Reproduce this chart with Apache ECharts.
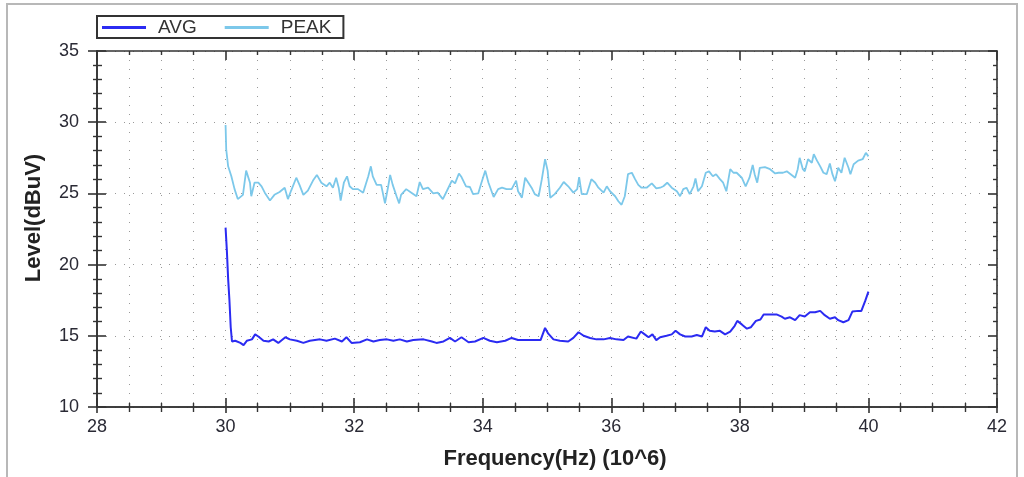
<!DOCTYPE html>
<html>
<head>
<meta charset="utf-8">
<script src="https://cdn.jsdelivr.net/npm/echarts@6/dist/echarts.min.js"></script>
<style>html,body{margin:0;padding:0;background:#fff;}#c{width:1024px;height:477px;}</style>
</head>
<body>
<div id="c"></div>
<script>
// ---- data (frequency in MHz, level in dBuV) ----
var seriesNames = ['AVG', 'PEAK'];
var avgFreq = [30.00,30.02,30.04,30.06,30.08,30.10,30.15,30.23,30.28,30.33,30.41,30.46,30.51,30.59,30.67,30.74,30.82,30.93,31.00,31.11,31.21,31.31,31.47,31.57,31.70,31.81,31.88,31.96,32.09,32.20,32.30,32.40,32.51,32.61,32.71,32.82,32.92,33.08,33.21,33.28,33.39,33.49,33.57,33.67,33.78,33.88,34.01,34.11,34.22,34.35,34.45,34.55,34.68,34.81,34.90,34.97,35.02,35.10,35.20,35.33,35.41,35.49,35.57,35.67,35.77,35.88,35.98,36.08,36.19,36.26,36.39,36.46,36.52,36.58,36.64,36.70,36.76,36.86,36.94,37.00,37.07,37.15,37.25,37.33,37.41,37.47,37.53,37.61,37.69,37.77,37.85,37.92,37.96,38.03,38.11,38.17,38.25,38.32,38.37,38.47,38.57,38.65,38.70,38.78,38.86,38.93,39.01,39.09,39.17,39.25,39.32,39.40,39.48,39.53,39.61,39.69,39.75,39.84,39.89,39.95,40.00];
var avgLevel = [22.6,21.0,19.0,17.5,15.6,14.6,14.65,14.5,14.35,14.65,14.75,15.1,14.95,14.65,14.6,14.75,14.5,14.9,14.75,14.65,14.5,14.65,14.75,14.65,14.8,14.6,14.9,14.5,14.55,14.75,14.6,14.7,14.75,14.65,14.75,14.6,14.7,14.75,14.6,14.5,14.6,14.85,14.6,14.9,14.55,14.6,14.85,14.65,14.55,14.65,14.85,14.7,14.7,14.7,14.7,15.55,15.15,14.75,14.65,14.6,14.85,15.25,15.0,14.85,14.75,14.75,14.85,14.75,14.7,14.95,14.8,15.3,15.1,14.9,15.1,14.7,14.9,15.0,15.1,15.35,15.1,14.95,14.95,15.05,14.95,15.6,15.35,15.3,15.35,15.1,15.3,15.7,16.05,15.8,15.5,15.6,16.05,16.15,16.5,16.5,16.5,16.35,16.2,16.3,16.1,16.45,16.35,16.65,16.65,16.75,16.45,16.2,16.3,16.1,15.95,16.1,16.7,16.75,16.75,17.45,18.1];
var peakFreq = [30.00,30.01,30.04,30.09,30.14,30.19,30.27,30.32,30.35,30.38,30.40,30.45,30.51,30.56,30.61,30.69,30.76,30.84,30.92,30.97,31.02,31.10,31.15,31.21,31.28,31.36,31.42,31.49,31.57,31.62,31.67,31.72,31.76,31.79,31.84,31.89,31.93,31.98,32.06,32.14,32.22,32.26,32.29,32.35,32.42,32.48,32.53,32.56,32.60,32.66,32.70,32.73,32.81,32.89,32.97,33.02,33.07,33.15,33.23,33.30,33.38,33.44,33.52,33.57,33.63,33.67,33.74,33.80,33.85,33.93,33.98,34.04,34.09,34.17,34.24,34.30,34.37,34.45,34.52,34.55,34.61,34.66,34.71,34.76,34.81,34.87,34.92,34.97,35.01,35.05,35.12,35.20,35.26,35.33,35.41,35.47,35.50,35.54,35.62,35.69,35.75,35.80,35.88,35.93,35.98,36.06,36.11,36.16,36.21,36.26,36.32,36.37,36.42,36.47,36.55,36.63,36.70,36.76,36.81,36.87,36.94,37.02,37.07,37.12,37.17,37.22,37.28,37.31,37.35,37.41,37.47,37.52,37.58,37.63,37.69,37.74,37.79,37.85,37.90,37.95,38.03,38.09,38.15,38.20,38.23,38.27,38.31,38.39,38.47,38.55,38.60,38.67,38.73,38.79,38.86,38.90,38.93,38.98,39.01,39.06,39.12,39.15,39.20,39.25,39.30,39.35,39.40,39.44,39.48,39.53,39.58,39.63,39.69,39.72,39.77,39.84,39.91,39.96,40.00];
var peakLevel = [29.8,28.1,26.9,26.2,25.3,24.6,24.9,26.6,26.5,25.75,24.8,25.75,25.75,25.5,25.05,24.5,24.9,25.1,25.4,24.6,25.2,26.1,25.6,24.9,25.2,25.9,26.3,25.75,25.5,25.75,25.4,26.1,25.4,24.5,25.75,26.2,25.5,25.3,25.3,25.05,26.2,26.9,26.2,25.6,25.6,24.3,25.5,26.3,25.6,24.8,24.3,24.9,25.3,25.05,24.8,25.8,25.3,25.4,25.0,25.05,24.6,25.15,25.9,25.7,26.4,26.15,25.5,25.45,24.95,25.0,25.75,26.6,25.75,24.75,25.3,25.4,25.3,25.3,25.9,25.15,24.7,26.1,25.75,25.4,24.95,24.8,26.0,27.4,26.6,24.7,24.95,25.4,25.8,25.5,25.05,25.3,26.15,24.95,24.95,26.0,25.75,25.4,25.05,25.5,25.15,24.8,24.45,24.2,24.8,26.35,26.45,26.0,25.6,25.4,25.4,25.7,25.35,25.4,25.5,25.75,25.4,25.15,24.8,25.3,25.4,24.95,25.5,26.05,25.15,25.5,26.45,26.55,26.2,26.35,26.0,25.75,25.15,26.7,26.45,26.45,26.1,25.5,26.1,27.0,26.35,25.75,26.8,26.85,26.7,26.4,26.45,26.45,26.55,26.35,26.1,26.7,27.5,26.7,26.55,27.4,27.15,27.75,27.3,26.9,26.45,26.35,27.1,26.35,25.85,26.8,26.45,27.5,26.8,26.35,27.05,27.3,27.4,27.85,27.6];
var xTicks = {min: 28, max: 42, step: 2};
var yTicks = {min: 10, max: 35, step: 5};
var xName = 'Frequency(Hz) (10^6)';
var yName = 'Level(dBuV)';

function pairs(xs, ys) { return xs.map(function (x, i) { return [x, ys[i]]; }); }

var FONT = 'Liberation Sans, Arial, sans-serif';
var AX = '#333';
var dotted = {color: '#999', width: 1, type: [1, 8]};

function xAx(pos, inside, len, mlen, labels, grid) {
  return {
    type: 'value', position: pos, min: xTicks.min, max: xTicks.max, interval: xTicks.step,
    axisLine: {show: true, onZero: false, lineStyle: {color: AX, width: 1.6}},
    axisTick: {show: true, inside: inside, length: len, lineStyle: {color: AX, width: 1.6}},
    minorTick: {show: true, splitNumber: 4, length: mlen, lineStyle: {color: AX, width: 1.4}},
    axisLabel: {show: labels, margin: 11, color: '#2a2a35', fontSize: 18, fontFamily: FONT},
    splitLine: {show: grid, lineStyle: dotted},
    minorSplitLine: {show: grid, lineStyle: dotted},
    name: labels ? xName : '', nameLocation: 'middle', nameGap: 41,
    nameTextStyle: {fontSize: 22, fontWeight: 'bold', color: '#222', fontFamily: FONT, padding: [0, 0, 0, 16]}
  };
}
function yAx(pos, inside, len, mlen, labels, grid) {
  return {
    type: 'value', position: pos, min: yTicks.min, max: yTicks.max, interval: yTicks.step,
    axisLine: {show: true, onZero: false, lineStyle: {color: AX, width: 1.6}},
    axisTick: {show: true, inside: inside, length: len, lineStyle: {color: AX, width: 1.6}},
    minorTick: {show: true, splitNumber: 5, length: mlen, lineStyle: {color: AX, width: 1.4}},
    axisLabel: {show: labels, margin: 18, color: '#2a2a35', fontSize: 18, fontFamily: FONT},
    splitLine: {show: grid, lineStyle: dotted},
    minorSplitLine: {show: false},
    name: labels ? yName : '', nameLocation: 'middle', nameGap: 52,
    nameTextStyle: {fontSize: 22, fontWeight: 'bold', color: '#222', fontFamily: FONT, padding: [0, 0, 0, 22]}
  };
}

var chart = echarts.init(document.getElementById('c'), null, {renderer: 'canvas'});
chart.setOption({
  animation: false,
  backgroundColor: '#fff',
  grid: {left: 97, right: 27, top: 51, bottom: 70, containLabel: false},
  graphic: [{
    type: 'rect', z: -10, silent: true,
    shape: {x: 7, y: 4, width: 1010, height: 490},
    style: {fill: 'none', stroke: '#b8b8b8', lineWidth: 2}
  }],
  legend: {
    left: 97, top: 16, orient: 'horizontal',
    data: seriesNames,
    icon: 'rect', itemWidth: 44, itemHeight: 3, itemGap: 28,
    padding: [2, 12, 1, 5],
    borderColor: '#333', borderWidth: 2, borderRadius: 0,
    textStyle: {fontSize: 19, color: '#333', fontFamily: FONT, padding: [0, 0, 0, 7]}
  },
  xAxis: [
    xAx('bottom', false, 6, 5, true, true),
    xAx('bottom', true, 9, 4, false, false),
    xAx('top', true, 9, 4, false, false)
  ],
  yAxis: [
    yAx('left', false, 9, 4, true, true),
    yAx('left', true, 9, 5, false, false),
    yAx('right', true, 9, 4, false, false)
  ],
  series: [
    {name: seriesNames[0], type: 'line', xAxisIndex: 0, yAxisIndex: 0, data: pairs(avgFreq, avgLevel),
     showSymbol: false, symbol: 'none', lineStyle: {color: '#2b2bf2', width: 2}, itemStyle: {color: '#2b2bf2'}, z: 3},
    {name: seriesNames[1], type: 'line', xAxisIndex: 0, yAxisIndex: 0, data: pairs(peakFreq, peakLevel),
     showSymbol: false, symbol: 'none', lineStyle: {color: '#7cc8ea', width: 1.8}, itemStyle: {color: '#7cc8ea'}, z: 2}
  ]
});
</script>
</body>
</html>
